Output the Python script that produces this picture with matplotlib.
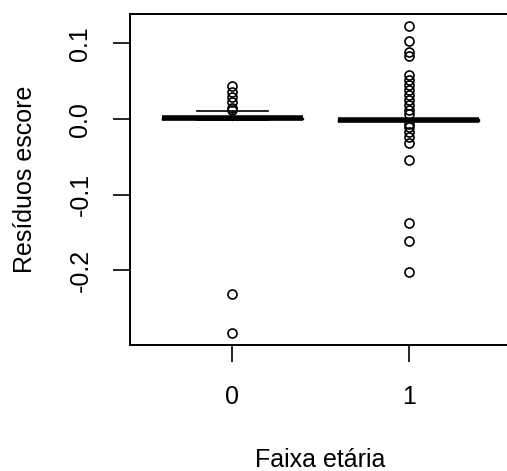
import matplotlib
matplotlib.use('Agg')
import matplotlib.pyplot as plt

plt.rcParams['font.family'] = ['Liberation Sans', 'DejaVu Sans']

# faixa etaria groups
groups = ['0', '1']
medians = [0.001, -0.0013]
q1 = [0.0, -0.002]
q3 = [0.002, -0.0005]
whis_lo = [-0.001, -0.003]
whis_hi = [0.011, 0.0]
fliers_0 = [0.044, 0.036, 0.029, 0.022, 0.015, 0.012, -0.231, -0.2826]
fliers_1 = [0.1228, 0.1037, 0.0883, 0.083, 0.0583, 0.0517, 0.045, 0.0388,
            0.0322, 0.0256, 0.0185, 0.0119, 0.0066, -0.006, -0.010, -0.0177,
            -0.0242, -0.031, -0.0543, -0.1377, -0.161, -0.2022]

stats = []
for i, fl in enumerate([fliers_0, fliers_1]):
    stats.append({'med': medians[i], 'q1': q1[i], 'q3': q3[i],
                  'whislo': whis_lo[i], 'whishi': whis_hi[i], 'fliers': fl})

fig = plt.figure(figsize=(5.07, 4.71), dpi=100)
ax = fig.add_axes([130/507, 126/471, 381/507, 331/471])

ax.bxp(stats, positions=[1, 2], widths=0.8, showcaps=True,
       boxprops=dict(color='black', linewidth=1),
       whiskerprops=dict(color='black', linewidth=1, linestyle='-'),
       capprops=dict(color='black', linewidth=1.2),
       medianprops=dict(color='black', linewidth=4, solid_capstyle='butt'),
       flierprops=dict(marker='o', markerfacecolor='none', markeredgecolor='black',
                       markersize=6.5, markeredgewidth=1.2))

ax.set_xlim(0.42, 2.58)
ax.set_ylim(-0.2988, 0.139)
ax.set_xticks([1, 2])
ax.set_xticklabels(groups)
ax.set_yticks([-0.2, -0.1, 0.0, 0.1])
ax.set_yticklabels(['-0.2', '-0.1', '0.0', '0.1'], rotation=90, va='center')
ax.tick_params(axis='both', length=12, width=1.2, labelsize=18)
ax.tick_params(axis='x', pad=17)
ax.tick_params(axis='y', pad=15)
for s in ax.spines.values():
    s.set_linewidth(1.4)

ax.set_xlabel('Faixa etária', fontsize=18, labelpad=28)
ax.set_ylabel('Resíduos escore', fontsize=18, labelpad=23)

fig.savefig('out.png', dpi=100)
